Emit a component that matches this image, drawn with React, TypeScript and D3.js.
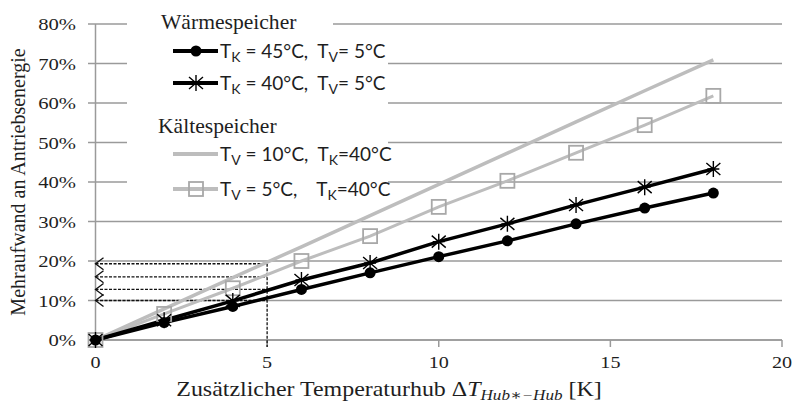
import React, { useEffect, useRef } from 'react';
import * as d3 from 'd3';

// x values (K) and series values (%)
const xs = [0, 2, 4, 6, 8, 10, 12, 14, 16, 18];
const tk45 = [0, 4.4, 8.5, 12.8, 17.0, 21.1, 25.1, 29.4, 33.4, 37.2];
const tk40 = [0, 5.0, 9.9, 15.2, 19.5, 24.9, 29.4, 34.2, 38.7, 43.3];
const tv5 = [0, 6.6, 13.1, 20.0, 26.3, 33.7, 40.3, 47.4, 54.4, 61.8];
const tv10 = [0, 7.9, 15.8, 23.6, 31.5, 39.4, 47.3, 55.2, 63.1, 70.9];

const yTicks = [0, 10, 20, 30, 40, 50, 60, 70, 80];
const xTicks = [0, 5, 10, 15, 20];
const dashLevels = [10, 12.8, 16, 19.3];
const dashX = 5;

const BLACK = '#000';
const GRAY = '#bdbdbd';
const GRID = '#9a9a9a';
const INK = '#1e1e1e';
const SERIF = '"Liberation Serif", "DejaVu Serif", serif';
const SANS = 'Lato, "Liberation Sans", sans-serif';

export default function App() {
    const ref = useRef<SVGSVGElement>(null);

    useEffect(() => {
        const svg = d3.select(ref.current);
        svg.selectAll('*').remove();

        const x = d3.scaleLinear().domain([0, 20]).range([95.5, 782]);
        const y = d3.scaleLinear().domain([0, 80]).range([340, 24]);

        // the original's text is a bit stretched sideways
        const wide = (tx: number, ty: number, s: number) => `translate(${tx},${ty}) scale(${s},1)`;

        // gridlines
        svg.append('g')
            .selectAll('line')
            .data(yTicks)
            .join('line')
            .attr('x1', 88).attr('x2', x(20))
            .attr('y1', d => y(d)).attr('y2', d => y(d))
            .attr('stroke', GRID).attr('stroke-width', 1.5);

        // y axis line
        svg.append('line')
            .attr('x1', x(0)).attr('x2', x(0))
            .attr('y1', y(80)).attr('y2', y(0))
            .attr('stroke', GRID).attr('stroke-width', 1.5);

        // x axis
        const xAxis = svg.append('g').attr('transform', `translate(0,${y(0)})`);
        xAxis.append('line').attr('x1', x(0)).attr('x2', x(20))
            .attr('stroke', GRID).attr('stroke-width', 1.5);
        xAxis.selectAll('line.tick').data(xTicks).join('line')
            .attr('class', 'tick')
            .attr('x1', d => x(d)).attr('x2', d => x(d))
            .attr('y1', 0).attr('y2', 7)
            .attr('stroke', GRID).attr('stroke-width', 1.5);
        xAxis.selectAll('text').data(xTicks).join('text')
            .attr('transform', d => wide(x(d), 28, 1.15))
            .attr('text-anchor', 'middle')
            .attr('font-family', SERIF).attr('font-size', 17.5)
            .attr('fill', INK)
            .text(d => d);

        // y tick labels
        svg.append('g').selectAll('text').data(yTicks).join('text')
            .attr('transform', d => wide(76, y(d) + 6, 1.18))
            .attr('text-anchor', 'end')
            .attr('font-family', SERIF).attr('font-size', 17.5)
            .attr('fill', INK)
            .text(d => d + '%');

        // dashed guide lines
        const dash = svg.append('g').attr('stroke', '#111').attr('stroke-width', 1.3)
            .attr('stroke-dasharray', '3,1.5').attr('fill', 'none');
        dash.selectAll('line.h').data(dashLevels).join('line')
            .attr('class', 'h')
            .attr('x1', x(0)).attr('x2', x(dashX))
            .attr('y1', d => y(d)).attr('y2', d => y(d));
        dash.append('line')
            .attr('x1', x(dashX)).attr('x2', x(dashX))
            .attr('y1', y(d3.max(dashLevels)!)).attr('y2', y(0) + 7);
        svg.append('g').selectAll('path').data(dashLevels).join('path')
            .attr('d', d => `M${x(0) + 8},${y(d) - 6}L${x(0)},${y(d)}L${x(0) + 8},${y(d) + 6}`)
            .attr('fill', 'none').attr('stroke', '#111').attr('stroke-width', 1.3);

        const line = d3.line<number>().x((d, i) => x(xs[i])).y(d => y(d));

        // series lines
        svg.append('path').datum(tv10).attr('d', line)
            .attr('fill', 'none').attr('stroke', GRAY).attr('stroke-width', 3.5);
        svg.append('path').datum(tv5).attr('d', line)
            .attr('fill', 'none').attr('stroke', GRAY).attr('stroke-width', 3);
        svg.append('path').datum(tk40).attr('d', line)
            .attr('fill', 'none').attr('stroke', BLACK).attr('stroke-width', 3.5);
        svg.append('path').datum(tk45).attr('d', line)
            .attr('fill', 'none').attr('stroke', BLACK).attr('stroke-width', 3.5);

        const square = (g: any, cx: number, cy: number) =>
            g.append('rect').attr('x', cx - 7).attr('y', cy - 7)
                .attr('width', 14).attr('height', 14)
                .attr('fill', 'none').attr('stroke', '#a8a8a8').attr('stroke-width', 1.8);
        const star = (g: any, cx: number, cy: number) =>
            g.append('path')
                .attr('d', `M${cx},${cy - 8}V${cy + 8}M${cx - 7},${cy - 6}L${cx + 7},${cy + 6}M${cx - 7},${cy + 6}L${cx + 7},${cy - 6}M${cx - 6},${cy}H${cx + 6}`)
                .attr('stroke', BLACK).attr('stroke-width', 1.4).attr('fill', 'none');
        const dot = (g: any, cx: number, cy: number) =>
            g.append('circle').attr('cx', cx).attr('cy', cy).attr('r', 5.5).attr('fill', BLACK);

        const marks = svg.append('g');
        tv5.forEach((v, i) => square(marks, x(xs[i]), y(v)));
        tk40.forEach((v, i) => star(marks, x(xs[i]), y(v)));
        tk45.forEach((v, i) => dot(marks, x(xs[i]), y(v)));

        // legend backgrounds
        svg.append('rect').attr('x', 127).attr('y', 8).attr('width', 206).attr('height', 30).attr('fill', '#fff');
        svg.append('rect').attr('x', 127).attr('y', 38).attr('width', 261).attr('height', 162).attr('fill', '#fff');

        const legend = svg.append('g');
        legend.append('text').attr('transform', wide(161, 29, 1.08))
            .attr('font-family', SERIF).attr('font-size', 20).attr('fill', INK).text('Wärmespeicher');
        legend.append('text').attr('transform', wide(158, 133, 1.08))
            .attr('font-family', SERIF).attr('font-size', 20).attr('fill', INK).text('Kältespeicher');

        const rows = [
            { cy: 51, color: BLACK, w: 4, mark: dot, a: 'K', av: ' = 45°C,  T', b: 'V', bv: '= 5°C' },
            { cy: 83, color: BLACK, w: 4, mark: star, a: 'K', av: ' = 40°C,  T', b: 'V', bv: '= 5°C' },
            { cy: 154, color: GRAY, w: 4, mark: null, a: 'V', av: ' = 10°C,  T', b: 'K', bv: '=40°C' },
            { cy: 189, color: GRAY, w: 4, mark: square, a: 'V', av: ' = 5°C,    T', b: 'K', bv: '=40°C' },
        ];
        rows.forEach(r => {
            legend.append('line').attr('x1', 173).attr('x2', 218)
                .attr('y1', r.cy).attr('y2', r.cy)
                .attr('stroke', r.color).attr('stroke-width', r.w);
            if (r.mark) r.mark(legend, 196, r.cy);
            const t = legend.append('text').attr('x', 220).attr('y', r.cy + 7)
                .attr('font-family', SANS).attr('font-size', 19).attr('fill', INK)
                .attr('xml:space', 'preserve').style('white-space', 'pre');
            t.append('tspan').text('T');
            t.append('tspan').attr('dy', 4).attr('font-size', 14).text(r.a);
            t.append('tspan').attr('dy', -4).text(r.av);
            t.append('tspan').attr('dy', 4).attr('font-size', 14).text(r.b);
            t.append('tspan').attr('dy', -4).text(r.bv);
        });

        // axis titles
        svg.append('text')
            .attr('transform', `translate(25,${(y(0) + y(80)) / 2}) rotate(-90)`)
            .attr('text-anchor', 'middle')
            .attr('font-family', SERIF).attr('font-size', 20).attr('fill', INK)
            .text('Mehraufwand an Antriebsenergie');

        const xt = svg.append('text').attr('transform', wide(389, 396, 1.14))
            .attr('text-anchor', 'middle')
            .attr('font-family', SERIF).attr('font-size', 21).attr('fill', INK);
        xt.append('tspan').text('Zusätzlicher Temperaturhub Δ');
        xt.append('tspan').attr('font-style', 'italic').text('T');
        xt.append('tspan').attr('font-style', 'italic').attr('font-size', 15).attr('dy', 4).text('Hub∗−Hub');
        xt.append('tspan').attr('dy', -4).text(' [K]');
    }, []);

    return (
        <svg ref={ref} width={793} height={408}
            style={{ position: 'fixed', left: 0, top: 0, background: '#fff' }} />
    );
}
